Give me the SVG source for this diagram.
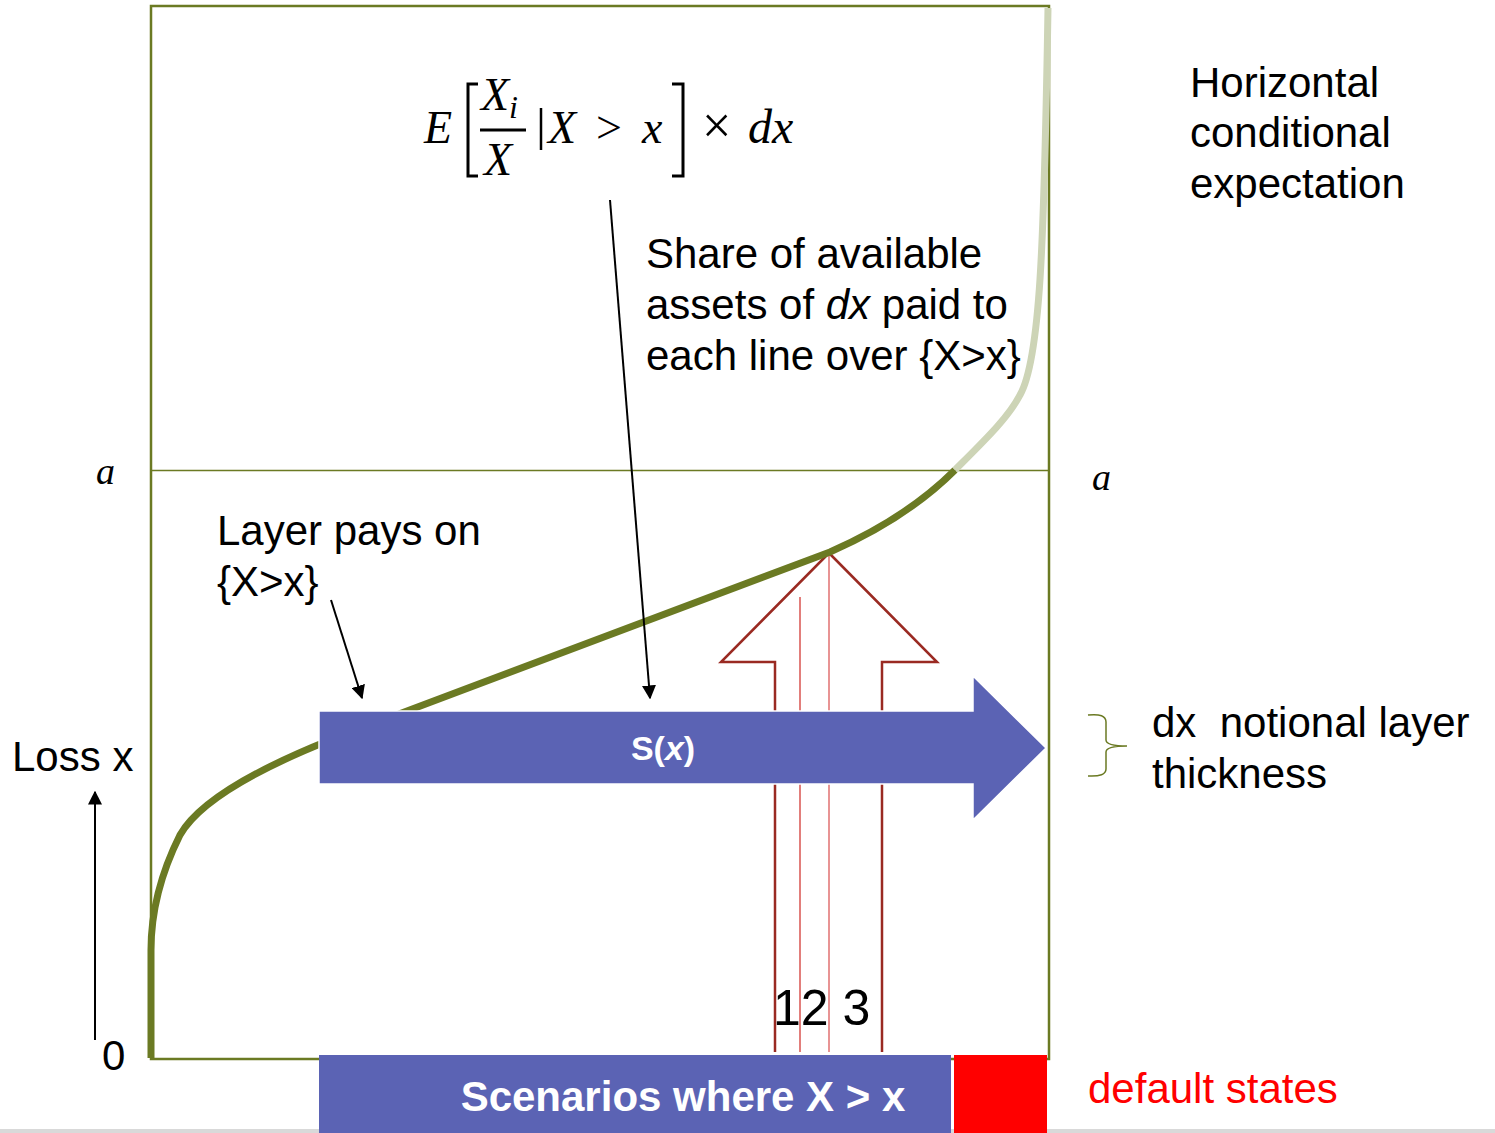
<svg xmlns="http://www.w3.org/2000/svg" width="1495" height="1133" viewBox="0 0 1495 1133">
<defs>
<marker id="ah" viewBox="0 0 10 10" refX="9" refY="5" markerWidth="7" markerHeight="7" orient="auto" markerUnits="strokeWidth">
<path d="M0,0 L10,5 L0,10 z" fill="#000"/>
</marker>
<style>
.t{font-family:"Liberation Sans",Arial,sans-serif;font-size:42px;fill:#000}
.m{font-family:"Liberation Serif","Times New Roman",serif;font-style:italic;fill:#000}
.frame{fill:none;stroke:#6B7A23;stroke-width:2}
.w{font-family:"Liberation Sans",Arial,sans-serif;font-weight:bold;fill:#fff}
.ln{stroke:#000;stroke-width:2;fill:none;marker-end:url(#ah)}
</style>
</defs>
<rect width="1495" height="1133" fill="#fff"/>
<rect x="0" y="1129" width="1495" height="4" fill="#d9d9d9"/>
<g id="frame">
<rect class="frame" x="151" y="6" width="898" height="1053" style="stroke-width:2.5"/>
<line class="frame" x1="151" y1="470.5" x2="1049" y2="470.5" style="stroke-width:1.5"/>
</g>
<g id="up-arrow">
<path d="M829,553 L937,662 L882,662 L882,1052 M775,1052 L775,662 L721,662 L829,553" fill="none" stroke="#9A2A22" stroke-width="2.5"/>
<line x1="800" y1="597" x2="800" y2="1052" stroke="#D9534F" stroke-width="1.5"/>
<line x1="829" y1="553" x2="829" y2="1052" stroke="#E07070" stroke-width="1.5"/>
<text class="t" x="773" y="1025" style="font-size:50px">12 3</text>
</g>
<g id="curve">
<path d="M151,1058 L151,950 C151,905 165,865 180,835 C200,800 260,768 330,740 L830,552 C880,530 920,505 955,470" fill="none" stroke="#6B7A23" stroke-width="7"/>
<path d="M955,470 C985,440 1008,418 1020,395 C1040,360 1044,250 1048,8" fill="none" stroke="#CDD4B6" stroke-width="7"/>
</g>
<g id="sx-arrow">
<path d="M319,711 L973,711 L973,676 L1046,748 L973,820 L973,784 L319,784 z" fill="#5B63B4" stroke="#fff" stroke-width="1.5"/>
<text class="w" x="663" y="760" font-size="34" text-anchor="middle">S(<tspan font-style="italic">x</tspan>)</text>
</g>
<g id="scenarios">
<rect x="319" y="1055" width="632" height="78" fill="#5B63B4"/>
<text class="w" x="683" y="1111" font-size="42" text-anchor="middle">Scenarios where X &gt; x</text>
</g>
<g id="default">
<rect x="954" y="1055" width="93" height="78" fill="#FF0000"/>
<text class="t" x="1088" y="1103" style="fill:#FF0000;font-size:42px">default states</text>
</g>
<g id="formula">
<text class="m" x="424" y="143" font-size="46">E</text>
<path d="M478,84 L468,84 L468,176 L478,176" fill="none" stroke="#000" stroke-width="3"/>
<text class="m" x="481" y="110" font-size="46">X</text>
<text class="m" x="509" y="118" font-size="32">i</text>
<line x1="480" y1="130" x2="526" y2="130" stroke="#000" stroke-width="3"/>
<text class="m" x="484" y="175" font-size="46">X</text>
<line x1="541" y1="108" x2="541" y2="150" stroke="#000" stroke-width="2.5"/>
<text class="m" x="548" y="143" font-size="46">X</text>
<text x="596" y="143" font-size="46" font-family="Liberation Serif,serif">&gt;</text>
<text class="m" x="642" y="143" font-size="46">x</text>
<path d="M672,84 L683,84 L683,176 L672,176" fill="none" stroke="#000" stroke-width="3"/>
<text x="702" y="143" font-size="52" font-family="Liberation Serif,serif">×</text>
<text class="m" x="748" y="143" font-size="48">dx</text>
</g>
<g id="labels">
<text class="t"><tspan x="1190" y="97">Horizontal</tspan><tspan x="1190" y="147">conditional</tspan><tspan x="1190" y="198">expectation</tspan></text>
<text class="t"><tspan x="646" y="268">Share of available</tspan><tspan x="646" y="319">assets of <tspan font-style="italic">dx</tspan> paid to</tspan><tspan x="646" y="370">each line over {X&gt;x}</tspan></text>
<text class="t"><tspan x="217" y="545">Layer pays on</tspan><tspan x="217" y="596">{X&gt;x}</tspan></text>
<text class="t" x="12" y="771">Loss x</text>
<text class="t" x="102" y="1070">0</text>
<text class="t"><tspan x="1152" y="737">dx&#160; notional layer</tspan><tspan x="1152" y="788">thickness</tspan></text>
<text class="m" x="96" y="484" font-size="38">a</text>
<text class="m" x="1092" y="490" font-size="38">a</text>
</g>
<g id="brace">
<path d="M1088,715 Q1106,713 1106,722 L1106,740 Q1106,746 1127,746 Q1106,746 1106,752 L1106,769 Q1106,777 1088,776" fill="none" stroke="#6B7A23" stroke-width="1.5"/>
</g>
<g id="connectors">
<line class="ln" x1="610" y1="200" x2="650" y2="698"/>
<line class="ln" x1="331" y1="600" x2="362" y2="698"/>
<line class="ln" x1="95" y1="1040" x2="95" y2="792"/>
</g>
</svg>
